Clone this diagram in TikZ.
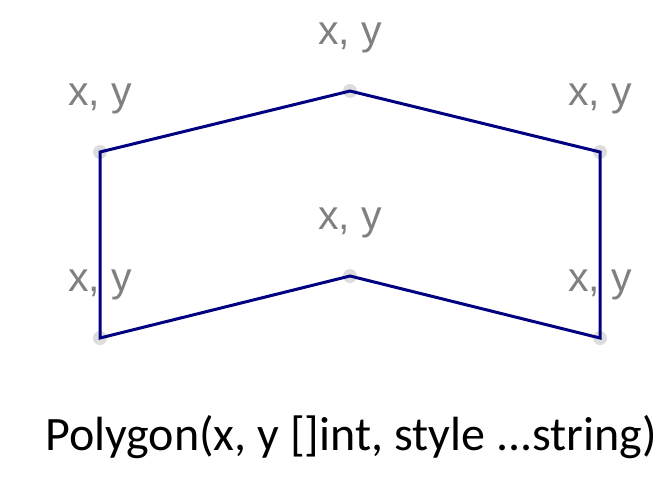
\documentclass[tikz,border=0pt]{standalone}
\usepackage{fontspec}
\setmainfont{Liberation Sans}
\newfontfamily\calib{Carlito}
\definecolor{dotgray}{HTML}{DDDDDD}
\definecolor{labgray}{HTML}{808080}
\definecolor{navyline}{HTML}{000080}
\begin{document}
\begin{tikzpicture}[x=1pt,y=-1pt,
  vdot/.style={circle,fill=dotgray,inner sep=0pt,minimum size=14pt},
  lab/.style={anchor=base,text=labgray,font=\fontsize{41}{41}\selectfont,inner sep=0pt},
  poly/.style={draw=navyline,line width=3pt,line join=miter}]
\useasboundingbox (0,0) rectangle (659,480);
\node[vdot] (p1) at (100,152) {};
\node[vdot] (p2) at (350,91) {};
\node[vdot] (p3) at (600,152) {};
\node[vdot] (p4) at (600,338) {};
\node[vdot] (p5) at (350,276) {};
\node[vdot] (p6) at (100,338) {};
\node[lab] (l1) at (100,105) {x, y};
\node[lab] (l2) at (350,44) {x, y};
\node[lab] (l3) at (600,105) {x, y};
\node[lab] (l4) at (600,291) {x, y};
\node[lab] (l5) at (350,229) {x, y};
\node[lab] (l6) at (100,291) {x, y};
\draw[poly] (p1.center) -- (p2.center) -- (p3.center) -- (p4.center) -- (p5.center) -- (p6.center) -- cycle;
\node[anchor=base,inner sep=0pt,font=\calib\fontsize{48}{48}\selectfont] (cap) at (351,450) {Polygon(x, y []int, style ...string)};
\end{tikzpicture}
\end{document}
